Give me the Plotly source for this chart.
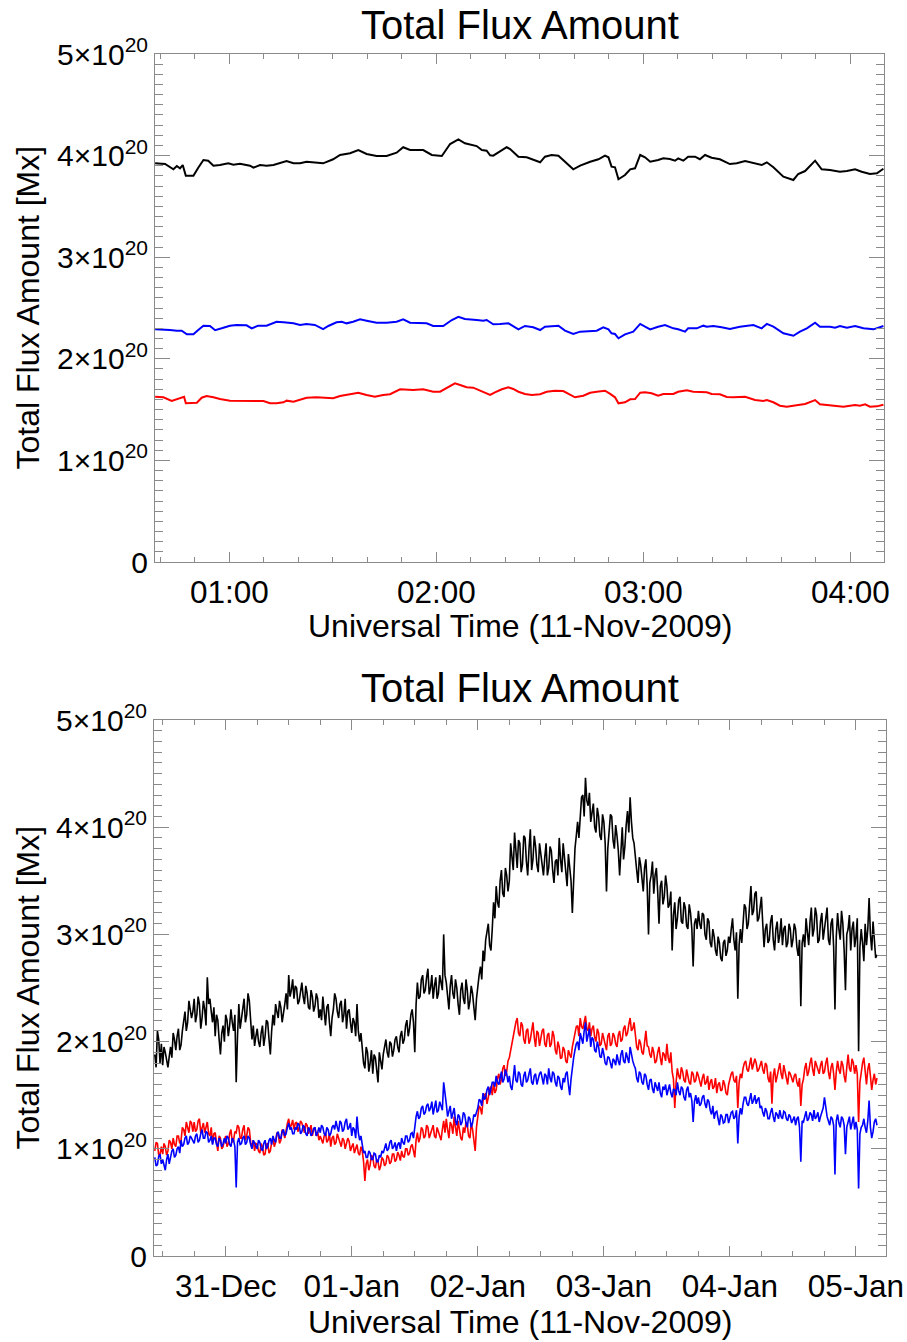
import numpy as np
import pandas as pd
import plotly.graph_objects as go

# ---------------- top panel (11-Nov-2009), time in minutes after 00:00 UT, flux in 1e20 Mx
top_black_min = [38.5,41.4,43.8,44.8,45.7,46.5,47.4,48.6,49.6,51.0,52.5,53.9,55.4,57.3,59.7,61.2,63.1,66.0,67.0,68.9,
                 70.8,72.8,74.7,76.6,78.6,80.5,82.4,85.3,87.2,90.1,92.1,95.0,97.4,99.8,102.7,105.6,108.5,110.4,112.4,116.2,
                 118.7,121.6,124.0,126.4,128.3,131.7,133.2,134.6,135.6,136.5,138.5,140.4,141.4,143.8,146.2,148.1,150.1,151.5,153.4,155.4,
                 157.3,159.7,161.7,164.6,167.0,168.9,169.9,170.8,171.8,172.8,174.7,176.2,177.6,179.1,180.5,182.0,184.3,185.8,187.7,189.2,
                 190.1,191.6,193.0,195.0,196.4,197.9,199.8,202.2,205.1,207.1,209.5,211.9,214.3,215.8,217.7,220.6,223.5,224.9,226.9,229.8,
                 231.7,234.1,237.0,239.0,241.4,243.3,245.7,247.7,249.6]
top_black = [3.924,3.917,3.865,3.898,3.875,3.907,3.802,3.806,3.802,3.881,3.957,3.950,3.901,3.907,3.924,3.910,3.920,3.901,3.881,3.907,
             3.901,3.907,3.930,3.947,3.924,3.924,3.940,3.934,3.924,3.964,4.006,4.023,4.055,4.016,3.996,3.996,4.029,4.082,4.055,4.055,
             4.006,3.996,4.114,4.160,4.121,4.094,4.055,4.048,4.003,3.999,4.045,4.082,4.065,3.989,3.983,3.957,3.934,3.989,4.006,3.999,
             3.940,3.865,3.901,3.940,3.964,3.999,3.983,3.891,3.885,3.767,3.809,3.865,3.875,4.006,3.983,3.940,3.957,3.973,3.967,3.950,
             3.973,3.950,3.989,3.989,3.964,4.006,3.979,3.964,3.917,3.924,3.947,3.930,3.907,3.934,3.885,3.792,3.760,3.819,3.848,3.950,
             3.865,3.858,3.841,3.848,3.865,3.841,3.819,3.826,3.871]

top_blue_min = [38.5,40.9,42.8,44.8,46.2,47.7,49.6,51.0,52.5,54.4,55.9,57.8,60.2,62.1,65.0,66.5,68.4,70.8,73.7,75.7,
                78.6,80.5,82.4,84.8,87.2,88.7,91.1,92.6,94.0,95.9,97.9,99.8,102.7,105.6,108.5,110.4,112.4,117.2,119.1,122.0,
                124.5,126.4,128.3,131.7,133.6,134.6,136.5,138.5,140.9,143.8,145.7,148.1,150.1,151.5,153.4,155.4,157.3,159.7,161.7,164.6,
                166.5,168.4,169.9,170.8,171.8,172.8,174.7,177.1,179.1,180.5,182.0,184.3,186.3,188.7,190.1,192.1,193.0,195.5,197.4,198.4,
                200.3,202.7,205.1,208.0,211.9,214.3,215.8,217.7,220.6,223.5,225.4,227.4,229.8,231.2,234.1,235.6,237.0,239.0,241.4,243.8,
                246.7,249.6]
top_blue = [2.290,2.290,2.283,2.277,2.277,2.241,2.241,2.283,2.326,2.323,2.281,2.300,2.326,2.333,2.330,2.300,2.326,2.326,2.365,2.359,
            2.349,2.333,2.343,2.333,2.293,2.323,2.359,2.365,2.349,2.365,2.389,2.375,2.355,2.355,2.365,2.389,2.355,2.349,2.323,2.323,
            2.382,2.414,2.392,2.382,2.375,2.382,2.340,2.343,2.349,2.290,2.323,2.310,2.283,2.316,2.323,2.326,2.277,2.244,2.267,2.277,
            2.277,2.310,2.290,2.251,2.244,2.202,2.241,2.267,2.343,2.316,2.290,2.316,2.333,2.300,2.290,2.267,2.300,2.300,2.326,2.316,
            2.323,2.310,2.293,2.316,2.333,2.300,2.343,2.316,2.251,2.227,2.267,2.300,2.355,2.316,2.316,2.306,2.323,2.306,2.323,2.300,
            2.290,2.323]

top_red_min = [38.5,40.9,43.3,44.8,46.2,46.9,47.4,49.1,50.6,52.0,53.4,55.4,57.3,60.2,63.1,67.0,69.9,71.8,73.7,75.7,
               76.6,78.6,80.5,82.4,85.3,88.2,90.1,92.1,95.0,97.4,99.8,102.2,104.6,106.6,109.5,113.3,116.2,119.1,
               121.1,123.0,125.4,126.9,128.8,130.7,132.2,134.1,135.6,137.0,139.0,140.9,142.3,143.8,145.7,147.7,150.1,152.0,154.4,156.8,
               158.3,160.2,162.6,164.6,166.5,168.9,170.4,171.8,172.8,174.7,176.2,177.6,179.1,180.5,182.4,184.3,185.8,188.7,190.1,192.6,
               194.5,197.4,198.4,199.8,202.2,204.2,206.1,209.5,212.4,214.8,215.8,217.7,219.6,221.6,223.5,224.9,226.9,229.8,231.2,234.1,
               236.0,238.0,239.9,241.4,242.8,244.3,245.7,247.7,249.6]
top_red = [1.627,1.621,1.585,1.604,1.617,1.627,1.562,1.568,1.568,1.617,1.634,1.621,1.604,1.588,1.588,1.585,1.585,1.562,1.562,1.572,
           1.588,1.578,1.601,1.617,1.621,1.617,1.611,1.634,1.654,1.666,1.644,1.627,1.644,1.651,1.700,1.693,1.700,1.676,
           1.676,1.710,1.759,1.742,1.720,1.716,1.693,1.670,1.644,1.670,1.700,1.720,1.703,1.676,1.654,1.644,1.651,1.676,1.686,1.683,
           1.654,1.621,1.637,1.666,1.676,1.686,1.654,1.621,1.562,1.572,1.601,1.604,1.666,1.670,1.660,1.637,1.654,1.654,1.676,1.690,
           1.676,1.676,1.670,1.654,1.651,1.624,1.621,1.627,1.594,1.585,1.594,1.572,1.538,1.529,1.535,1.545,1.555,1.594,1.552,1.545,
           1.535,1.529,1.538,1.545,1.538,1.552,1.529,1.532,1.548]

# ---------------- bottom panel, flux in 1e20 Mx
# samples "a": every 30 min from 2009-12-30 10:30 UT; samples "b": every 30 min from 10:45 UT
bottom_start_a = "2009-12-30 10:30"
bottom_start_b = "2009-12-30 10:45"
bottom_black_a = [
    1.88, 2.10, 1.80,
    1.78, 1.90, 1.76, 1.95, 2.08, 1.92, 2.12, 1.97, 2.20, 2.10, 2.38, 2.22,
    2.40, 2.25, 2.35, 2.22, 2.30, 2.60, 2.40, 2.18, 2.05, 2.20, 1.88, 2.15,
    2.25, 2.05, 2.30, 2.10, 1.62, 2.35, 2.20, 2.40, 2.25, 2.38, 2.02, 1.96,
    2.12, 1.95, 2.15, 2.05, 2.18, 1.88, 2.25, 2.35, 2.22, 2.32, 2.25, 2.45,
    2.62, 2.48, 2.40, 2.50, 2.38, 2.55, 2.35, 2.45, 2.30, 2.42, 2.33, 2.40,
    2.30, 2.42, 2.15, 2.35, 2.05, 2.30, 2.40, 2.22, 2.38, 2.25, 2.12, 2.30,
    2.08, 2.18, 2.35, 2.00, 1.92, 1.75, 1.90, 1.80, 1.70, 1.85, 1.62, 1.82,
    1.88, 2.02, 1.85, 1.98, 1.92, 2.05, 1.90, 2.10, 2.02, 2.20, 2.12, 2.30,
    1.90, 2.55, 2.42, 2.62, 2.48, 2.68, 2.50, 2.40, 2.60, 2.45, 2.55, 3.00,
    2.55, 2.30, 2.62, 2.40, 2.50, 2.25, 2.55, 2.35, 2.48, 2.38, 2.45, 2.20,
    2.55, 2.70, 2.85, 2.95, 3.10, 2.85, 3.30, 3.45, 3.25, 3.60, 3.35, 3.55,
    3.50, 3.72, 3.95, 3.62, 3.85, 3.65, 3.90, 3.55, 3.98, 3.70, 3.82, 3.58,
    3.75, 3.55, 3.85, 3.62, 3.78, 3.48, 3.70, 3.90, 3.58, 3.72, 3.45, 3.65,
    3.20, 3.80, 4.05, 4.15, 4.30, 4.46, 4.20, 4.05, 4.22, 3.95, 4.10, 3.88,
    4.05, 3.40, 3.95, 4.10, 3.80, 3.92, 3.55, 4.00, 3.82, 4.15, 4.28, 3.90,
    3.75, 3.48, 3.65, 3.40, 3.70, 3.00, 3.55, 3.38, 3.62, 3.10, 3.50, 3.35,
    3.45, 3.28, 2.85, 3.30, 3.15, 3.35, 3.10, 3.25, 3.05, 3.20, 2.70, 3.15,
    3.22, 3.05, 3.18, 2.95, 3.12, 2.88, 2.98, 2.80, 2.92, 2.75, 2.95, 2.85,
    2.92, 3.15, 2.85, 2.40, 3.05, 3.12, 3.25, 3.10, 3.45, 3.22, 3.40, 3.15,
    3.35, 2.88, 3.10, 2.95, 3.18, 2.85, 3.12, 3.00, 2.90, 3.08, 2.92, 3.05,
    2.95, 3.05, 2.80, 2.33, 3.00, 3.15, 2.90, 3.25, 3.05, 3.18, 2.95, 3.20,
    3.05, 3.25, 2.90, 3.15, 2.30, 3.20, 2.95, 3.10, 2.48, 3.05, 2.85, 3.12,
    2.98, 1.91, 3.05, 2.75, 2.90, 3.34, 2.85, 2.95, 2.81]
bottom_black_b = [
    1.76, 2.02, 1.98,
    1.95, 1.82, 1.86, 1.85, 2.02, 2.05, 1.92, 2.10, 2.28, 2.18, 2.30, 2.28,
    2.18, 2.42, 2.12, 2.38, 2.15, 2.35, 2.28, 2.32, 2.25, 2.02, 2.08, 2.00,
    2.20, 2.15, 2.18, 2.25, 2.05, 2.12, 2.30, 2.18, 2.45, 2.20, 2.15, 2.05,
    2.00, 2.08, 1.96, 2.20, 2.02, 2.10, 2.15, 2.28, 2.38, 2.18, 2.35, 2.30,
    2.42, 2.58, 2.52, 2.35, 2.48, 2.42, 2.52, 2.32, 2.48, 2.28, 2.45, 2.22,
    2.20, 2.28, 2.32, 2.18, 2.22, 2.45, 2.28, 2.35, 2.18, 2.40, 2.28, 2.18,
    2.22, 2.05, 2.10, 2.08, 1.80, 1.95, 1.72, 1.92, 1.88, 1.72, 1.90, 1.74,
    1.95, 1.90, 2.00, 1.86, 2.02, 1.95, 2.05, 1.98, 2.15, 2.05, 2.25, 2.18,
    2.35, 2.40, 2.58, 2.45, 2.60, 2.44, 2.62, 2.52, 2.40, 2.62, 2.48, 2.62,
    2.42, 2.52, 2.45, 2.58, 2.35, 2.48, 2.40, 2.58, 2.30, 2.52, 2.32, 2.40,
    2.62, 2.58, 2.75, 3.05, 2.90, 3.05, 3.15, 3.30, 3.50, 3.38, 3.62, 3.40,
    3.85, 3.60, 3.75, 3.88, 3.58, 3.92, 3.68, 3.80, 3.60, 3.92, 3.65, 3.85,
    3.62, 3.72, 3.55, 3.82, 3.60, 3.68, 3.55, 3.70, 3.85, 3.58, 3.75, 3.50,
    3.55, 3.92, 3.90, 4.28, 4.10, 4.25, 4.32, 4.15, 4.00, 4.18, 3.92, 4.12,
    3.85, 3.80, 4.12, 3.88, 4.02, 3.78, 3.85, 3.70, 4.02, 3.95, 4.05, 3.85,
    3.60, 3.72, 3.50, 3.62, 3.45, 3.48, 3.68, 3.55, 3.40, 3.45, 3.28, 3.55,
    3.25, 3.40, 3.18, 3.05, 3.32, 3.12, 3.30, 3.08, 3.28, 3.05, 3.10, 3.05,
    3.10, 3.20, 3.00, 3.15, 2.92, 3.05, 2.85, 2.98, 2.78, 2.92, 2.80, 2.98,
    3.05, 2.95, 3.02, 2.90, 2.92, 3.28, 3.05, 3.30, 3.18, 3.38, 3.12, 3.25,
    3.10, 3.05, 2.92, 3.12, 2.95, 3.05, 2.92, 3.15, 3.05, 2.88, 3.10, 2.88,
    3.10, 2.88, 2.95, 2.92, 2.88, 3.02, 3.12, 2.98, 3.25, 2.92, 3.12, 2.95,
    3.18, 2.95, 3.10, 2.88, 2.98, 3.05, 3.22, 2.85, 3.00, 3.18, 3.05, 2.88,
    3.15, 2.88, 2.92, 3.10, 3.05, 3.00, 3.12, 2.78]
bottom_red_a = [
    0.98, 1.05, 0.95,
    0.95, 1.02, 0.98, 1.06, 1.10, 1.02, 1.12, 1.08, 1.18, 1.25, 1.15, 1.24,
    1.25, 1.18, 1.28, 1.20, 1.15, 1.25, 1.12, 1.05, 1.15, 0.98, 1.10, 1.02,
    1.12, 1.05, 1.18, 1.08, 1.15, 1.20, 1.10, 1.22, 1.12, 1.18, 1.02, 0.98,
    1.04, 0.96, 1.02, 0.95, 1.05, 0.98, 1.10, 1.06, 1.14, 1.08, 1.15, 1.18,
    1.28, 1.22, 1.18, 1.25, 1.20, 1.24, 1.15, 1.22, 1.18, 1.12, 1.20, 1.16,
    1.12, 1.05, 1.15, 1.08, 1.02, 1.12, 1.06, 1.10, 1.02, 1.08, 1.04, 1.07,
    1.02, 0.96, 1.04, 0.94, 0.98, 0.70, 0.90, 0.85, 0.92, 0.82, 0.88, 0.84,
    0.90, 0.86, 0.92, 0.88, 0.95, 0.90, 0.94, 0.98, 0.92, 1.00, 0.96, 1.04,
    0.92, 1.15, 1.10, 1.18, 1.12, 1.20, 1.14, 1.22, 1.10, 1.16, 1.08, 1.26,
    1.28, 1.10, 1.22, 1.30, 1.12, 1.18, 1.08, 1.15, 1.22, 1.10, 1.18, 0.98,
    1.30, 1.38, 1.45, 1.52, 1.48, 1.58, 1.62, 1.55, 1.70, 1.65, 1.78, 1.72,
    1.85, 1.98, 2.10, 2.22, 2.05, 2.15, 1.98, 2.12, 2.02, 2.18, 1.95, 2.08,
    2.02, 2.12, 1.95, 2.08, 1.98, 2.05, 1.88, 1.95, 1.85, 1.92, 1.80, 1.88,
    1.95, 2.08, 2.15, 2.22, 2.12, 2.24, 2.10, 2.05, 2.15, 2.00, 2.08, 1.98,
    2.02, 1.92, 2.08, 1.98, 2.05, 1.95, 2.10, 2.02, 2.15, 2.08, 2.22, 2.12,
    2.05, 1.92, 1.98, 1.88, 2.10, 1.95, 1.85, 1.90, 1.82, 1.95, 1.78, 1.88,
    1.98, 1.80, 1.72, 1.38, 1.75, 1.65, 1.72, 1.62, 1.68, 1.60, 1.70, 1.64,
    1.68, 1.58, 1.70, 1.62, 1.55, 1.65, 1.58, 1.52, 1.62, 1.55, 1.60, 1.50,
    1.65, 1.72, 1.62, 1.38, 1.70, 1.75, 1.82, 1.72, 1.85, 1.78, 1.80, 1.74,
    1.82, 1.70, 1.78, 1.62, 1.42, 1.75, 1.68, 1.80, 1.65, 1.72, 1.60, 1.70,
    1.62, 1.70, 1.58, 1.40, 1.65, 1.80, 1.72, 1.85, 1.68, 1.78, 1.70, 1.82,
    1.72, 1.85, 1.65, 1.80, 1.55, 1.82, 1.70, 1.78, 1.62, 1.88, 1.72, 1.80,
    1.78, 1.25, 1.72, 1.85, 1.60, 1.80, 1.55, 1.70, 1.66]
bottom_red_b = [
    1.06, 0.94, 1.02,
    1.05, 0.94, 1.08, 1.00, 1.04, 1.12, 1.05, 1.20, 1.12, 1.18, 1.26, 1.16,
    1.16, 1.26, 1.15, 1.24, 1.22, 1.14, 1.20, 1.14, 1.06, 1.12, 1.00, 1.08,
    1.02, 1.14, 1.06, 1.16, 1.22, 1.10, 1.18, 1.08, 1.20, 1.06, 1.08, 1.05,
    0.98, 1.05, 0.94, 1.04, 0.96, 1.06, 1.02, 1.15, 1.05, 1.18, 1.10, 1.24,
    1.20, 1.27, 1.24, 1.16, 1.26, 1.18, 1.24, 1.14, 1.22, 1.18, 1.12, 1.08,
    1.08, 1.12, 1.06, 1.14, 1.10, 1.04, 1.14, 1.04, 1.10, 1.00, 1.10, 0.98,
    1.05, 1.00, 0.96, 1.02, 0.88, 0.86, 0.80, 0.94, 0.84, 0.90, 0.80, 0.92,
    0.84, 0.94, 0.86, 0.95, 0.88, 0.97, 0.89, 0.93, 1.00, 0.94, 1.02, 0.98,
    1.08, 1.06, 1.20, 1.10, 1.22, 1.10, 1.18, 1.12, 1.20, 1.10, 1.18, 1.15,
    1.18, 1.25, 1.14, 1.20, 1.26, 1.10, 1.20, 1.25, 1.12, 1.24, 1.10, 1.20,
    1.40, 1.32, 1.50, 1.42, 1.56, 1.50, 1.52, 1.66, 1.60, 1.75, 1.68, 1.82,
    1.92, 2.05, 2.18, 2.08, 2.18, 2.02, 2.10, 1.98, 2.12, 2.04, 2.10, 1.96,
    2.10, 1.98, 2.06, 1.95, 2.10, 1.92, 2.00, 1.84, 1.95, 1.82, 1.92, 1.85,
    2.02, 2.14, 2.05, 2.14, 2.20, 2.12, 2.18, 2.12, 2.04, 2.12, 1.96, 2.08,
    1.95, 2.05, 1.96, 2.08, 1.98, 2.06, 2.00, 2.12, 2.05, 2.16, 2.10, 2.18,
    1.95, 2.02, 1.90, 2.00, 1.96, 1.88, 1.95, 1.80, 1.90, 1.85, 1.90, 1.82,
    1.85, 1.90, 1.65, 1.62, 1.68, 1.76, 1.64, 1.74, 1.62, 1.72, 1.62, 1.72,
    1.62, 1.66, 1.60, 1.68, 1.62, 1.56, 1.66, 1.60, 1.54, 1.64, 1.52, 1.60,
    1.70, 1.64, 1.68, 1.62, 1.66, 1.80, 1.74, 1.80, 1.74, 1.84, 1.72, 1.78,
    1.74, 1.80, 1.66, 1.72, 1.68, 1.62, 1.76, 1.70, 1.78, 1.64, 1.72, 1.66,
    1.68, 1.62, 1.66, 1.60, 1.75, 1.68, 1.80, 1.74, 1.82, 1.72, 1.78, 1.70,
    1.80, 1.72, 1.76, 1.70, 1.72, 1.74, 1.82, 1.68, 1.76, 1.75, 1.84, 1.70,
    1.70, 1.62, 1.80, 1.72, 1.74, 1.68, 1.64, 1.60]
bottom_blue_a = [
    0.92, 0.85, 0.95,
    0.90, 0.80, 0.95, 0.92, 1.00, 0.94, 1.02, 1.08, 1.04, 1.12, 1.06, 1.10,
    1.05, 1.14, 1.08, 1.18, 1.10, 1.15, 1.08, 1.04, 1.10, 1.02, 1.08, 1.05,
    1.05, 1.10, 1.02, 1.08, 0.64, 1.10, 1.05, 1.12, 1.06, 1.10, 1.00, 1.05,
    1.00, 1.06, 0.98, 1.08, 1.02, 1.10, 1.12, 1.06, 1.16, 1.10, 1.18, 1.14,
    1.24, 1.20, 1.14, 1.18, 1.22, 1.16, 1.20, 1.12, 1.18, 1.14, 1.20, 1.15,
    1.15, 1.20, 1.12, 1.18, 1.14, 1.22, 1.26, 1.16, 1.24, 1.18, 1.28, 1.20,
    1.12, 1.18, 1.30, 1.08, 1.02, 0.98, 0.92, 0.96, 0.90, 0.95, 0.88, 0.92,
    0.96, 1.05, 1.00, 1.08, 1.02, 0.98, 1.06, 1.10, 1.04, 1.12, 1.08, 1.15,
    1.22, 1.35, 1.30, 1.40, 1.34, 1.42, 1.38, 1.32, 1.45, 1.36, 1.40, 1.62,
    1.42, 1.35, 1.28, 1.38, 1.22, 1.30, 1.25, 1.32, 1.20, 1.28, 1.24, 1.30,
    1.38, 1.45, 1.52, 1.48, 1.58, 1.55, 1.62, 1.68, 1.60, 1.72, 1.65, 1.70,
    1.68, 1.55, 1.78, 1.62, 1.70, 1.58, 1.72, 1.64, 1.75, 1.60, 1.70, 1.65,
    1.72, 1.60, 1.68, 1.75, 1.62, 1.70, 1.58, 1.66, 1.55, 1.62, 1.72, 1.50,
    1.78, 1.92, 2.00, 2.08, 1.98, 2.18, 2.05, 1.95, 2.02, 1.90, 1.95, 1.85,
    1.88, 1.78, 1.85, 1.75, 1.82, 1.88, 1.78, 1.92, 1.80, 1.86, 1.95, 1.82,
    1.75, 1.62, 1.70, 1.60, 1.68, 1.55, 1.65, 1.52, 1.58, 1.62, 1.48, 1.55,
    1.50, 1.60, 1.48, 1.55, 1.62, 1.50, 1.56, 1.45, 1.58, 1.52, 1.25, 1.50,
    1.48, 1.42, 1.50, 1.38, 1.44, 1.32, 1.28, 1.35, 1.22, 1.30, 1.25, 1.32,
    1.28, 1.35, 1.30, 1.05, 1.38, 1.42, 1.48, 1.40, 1.52, 1.45, 1.42, 1.48,
    1.40, 1.30, 1.35, 1.28, 1.38, 1.25, 1.32, 1.36, 1.28, 1.34, 1.26, 1.30,
    1.28, 1.22, 1.30, 0.88, 1.25, 1.35, 1.28, 1.32, 1.36, 1.30, 1.25, 1.34,
    1.48, 1.30, 1.22, 1.28, 0.76, 1.32, 1.20, 1.28, 0.95, 1.25, 1.18, 1.30,
    1.25, 0.63, 1.20, 1.28, 1.15, 1.45, 1.10, 1.25, 1.22]
bottom_blue_b = [
    0.84, 0.93, 0.86,
    0.86, 0.90, 0.86, 0.98, 0.92, 1.00, 0.96, 1.02, 1.10, 1.04, 1.12, 1.08,
    1.12, 1.06, 1.14, 1.10, 1.16, 1.06, 1.12, 1.10, 1.04, 1.10, 1.02, 1.10,
    1.12, 1.04, 1.10, 1.02, 1.06, 1.04, 1.10, 1.04, 1.12, 1.04, 1.08, 1.02,
    1.08, 1.00, 1.05, 1.00, 1.08, 1.04, 1.08, 1.14, 1.10, 1.16, 1.12, 1.20,
    1.18, 1.14, 1.20, 1.24, 1.14, 1.22, 1.14, 1.20, 1.12, 1.19, 1.12, 1.20,
    1.22, 1.14, 1.20, 1.12, 1.20, 1.18, 1.20, 1.26, 1.16, 1.25, 1.18, 1.24,
    1.20, 1.10, 1.15, 1.12, 0.96, 0.92, 0.98, 0.90, 0.96, 0.88, 0.94, 0.98,
    1.02, 0.98, 1.06, 1.00, 1.06, 1.04, 1.00, 1.06, 1.12, 1.06, 1.14, 1.10,
    1.30, 1.28, 1.38, 1.32, 1.40, 1.35, 1.44, 1.40, 1.34, 1.44, 1.36, 1.48,
    1.30, 1.40, 1.34, 1.26, 1.32, 1.22, 1.34, 1.24, 1.30, 1.20, 1.32, 1.34,
    1.46, 1.40, 1.46, 1.55, 1.50, 1.62, 1.58, 1.62, 1.68, 1.62, 1.74, 1.62,
    1.58, 1.66, 1.64, 1.72, 1.60, 1.68, 1.62, 1.70, 1.62, 1.68, 1.60, 1.70,
    1.64, 1.70, 1.60, 1.66, 1.72, 1.62, 1.68, 1.58, 1.66, 1.70, 1.60, 1.65,
    1.85, 1.98, 1.92, 2.02, 2.10, 2.00, 2.12, 2.04, 1.92, 2.00, 1.86, 1.94,
    1.80, 1.86, 1.78, 1.84, 1.78, 1.82, 1.88, 1.82, 1.90, 1.80, 1.86, 1.78,
    1.66, 1.72, 1.62, 1.70, 1.60, 1.64, 1.56, 1.62, 1.54, 1.52, 1.58, 1.60,
    1.56, 1.52, 1.56, 1.50, 1.54, 1.58, 1.48, 1.55, 1.48, 1.45, 1.44, 1.42,
    1.40, 1.48, 1.42, 1.46, 1.36, 1.40, 1.34, 1.28, 1.32, 1.24, 1.32, 1.24,
    1.34, 1.28, 1.36, 1.30, 1.32, 1.48, 1.42, 1.48, 1.42, 1.50, 1.46, 1.38,
    1.34, 1.38, 1.28, 1.34, 1.30, 1.34, 1.28, 1.30, 1.35, 1.28, 1.32, 1.24,
    1.30, 1.28, 1.20, 1.26, 1.30, 1.26, 1.34, 1.26, 1.28, 1.34, 1.30, 1.38,
    1.36, 1.26, 1.30, 1.22, 1.26, 1.24, 1.30, 1.22, 1.20, 1.30, 1.26, 1.18,
    1.18, 1.14, 1.22, 1.20, 1.26, 1.20, 1.16, 1.28]

y_tick_vals = [0, 1, 2, 3, 4, 5]
y_tick_text = ["0", "1×10<sup>20</sup>", "2×10<sup>20</sup>", "3×10<sup>20</sup>",
               "4×10<sup>20</sup>", "5×10<sup>20</sup>"]
title_text = "Total Flux Amount"
xtitle_text = "Universal Time (11-Nov-2009)"
ytitle_text = "Total Flux Amount [Mx]"

UNIT = 1e20
day0 = pd.Timestamp("2009-11-11")


def top_x(mins):
    return day0 + pd.to_timedelta(np.array(mins), unit="min")


def merged(a_vals, b_vals):
    sa = pd.Series(a_vals, index=pd.date_range(bottom_start_a, periods=len(a_vals), freq="30min"))
    sb = pd.Series(b_vals, index=pd.date_range(bottom_start_b, periods=len(b_vals), freq="30min"))
    return pd.concat([sa, sb]).sort_index()


W, H = 907, 1342
FONT = "Liberation Sans, Arial, Helvetica, sans-serif"
AX = "#8a8a8a"

fig = go.Figure()
for mins, vals, col in [(top_black_min, top_black, "#000000"),
                        (top_red_min, top_red, "#ff0000"),
                        (top_blue_min, top_blue, "#0000ff")]:
    fig.add_trace(go.Scatter(x=top_x(mins), y=np.array(vals) * UNIT, mode="lines",
                             line=dict(color=col, width=2), xaxis="x", yaxis="y",
                             showlegend=False))

for a_vals, b_vals, col in [(bottom_black_a, bottom_black_b, "#000000"),
                            (bottom_red_a, bottom_red_b, "#ff0000"),
                            (bottom_blue_a, bottom_blue_b, "#0000ff")]:
    s = merged(a_vals, b_vals)
    fig.add_trace(go.Scatter(x=s.index, y=s.values * UNIT, mode="lines",
                             line=dict(color=col, width=1.6), xaxis="x2", yaxis="y2",
                             showlegend=False))

xtickfont = dict(family=FONT, size=31.5, color="black")
ytickfont = dict(family=FONT, size=30, color="black")


def xaxis(dom, rng, dtick, minor_dtick, fmt, tick0, anchor):
    return dict(domain=dom, anchor=anchor, type="date", range=rng, tickmode="linear",
                tick0=tick0, dtick=dtick, tickformat=fmt, ticks="inside", ticklen=10,
                tickwidth=1, tickcolor=AX, showline=True, linecolor=AX, linewidth=1,
                mirror="ticks", showgrid=False, zeroline=False, tickfont=xtickfont,
                automargin=False, ticklabelstandoff=2,
                minor=dict(tickmode="linear", tick0=tick0, dtick=minor_dtick, ticks="inside",
                           ticklen=5, tickwidth=1, tickcolor=AX, showgrid=False))


def yaxis(dom, anchor):
    return dict(domain=dom, anchor=anchor, range=[0, 5 * UNIT], tickmode="array",
                tickvals=[v * UNIT for v in y_tick_vals], ticktext=y_tick_text,
                ticks="inside", ticklen=15, tickwidth=1, tickcolor=AX, showline=True,
                linecolor=AX, linewidth=1, mirror="ticks", showgrid=False, zeroline=False,
                tickfont=ytickfont, automargin=False,
                minor=dict(tickmode="linear", tick0=0, dtick=0.1 * UNIT, ticks="inside",
                           ticklen=8, tickwidth=1, tickcolor=AX, showgrid=False))


def py(pix):
    return 1 - pix / H


fig.update_layout(
    template="none",
    width=W, height=H, margin=dict(l=0, r=0, t=0, b=0, pad=0, autoexpand=False),
    paper_bgcolor="white", plot_bgcolor="white",
    xaxis=xaxis([155 / W, 884 / W], ["2009-11-11 00:38:28", "2009-11-11 04:09:46"],
                3600000, 600000, "%H:%M", "2009-11-11 00:00", "y"),
    yaxis=yaxis([py(562), py(54)], "x"),
    xaxis2=xaxis([154 / W, 886 / W], ["2009-12-30 10:21", "2010-01-05 05:43"],
                 86400000, 21600000, "%d-%b", "2009-12-30 00:00", "y2"),
    yaxis2=yaxis([py(1256), py(720)], "x2"),
)

ann = []
for ty, xty, yty in [(25, 626, 308), (688, 1322, 988)]:
    ann.append(dict(text=title_text, x=519.5 / W, y=py(ty), xref="paper", yref="paper",
                    showarrow=False, xanchor="center", yanchor="middle",
                    font=dict(family=FONT, size=40, color="black")))
    ann.append(dict(text=xtitle_text, x=519.5 / W, y=py(xty), xref="paper", yref="paper",
                    showarrow=False, xanchor="center", yanchor="middle",
                    font=dict(family=FONT, size=32, color="black")))
    ann.append(dict(text=ytitle_text, x=27.5 / W, y=py(yty), xref="paper", yref="paper",
                    showarrow=False, xanchor="center", yanchor="middle", textangle=-90,
                    font=dict(family=FONT, size=32, color="black")))
fig.update_layout(annotations=ann)

fig.write_html("out.html")
